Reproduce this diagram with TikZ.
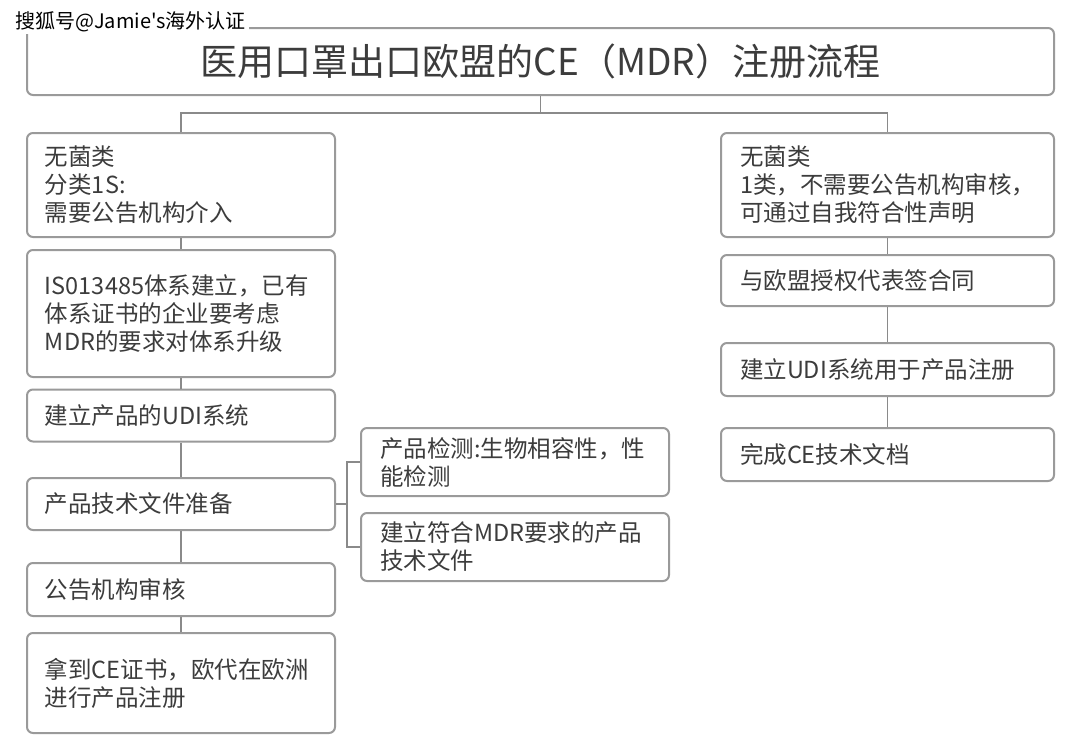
\documentclass[tikz,border=0pt]{standalone}
\usepackage{fontspec}
\setmainfont{Noto Sans CJK SC}
\newfontfamily\wmfont[Ligatures=TeXOff]{Noto Sans CJK SC}
\definecolor{boxline}{HTML}{9A9A9A}
\definecolor{connline}{HTML}{8A8A8A}
\definecolor{txt}{HTML}{3C3C3C}
\begin{document}
\begin{tikzpicture}[x=1pt,y=-1pt,
  box/.style={draw=boxline,line width=2pt,rounded corners=6pt,fill=white,
    align=left,text=txt,font=\fontsize{23.5}{28}\selectfont,
    inner ysep=0pt,anchor=center},
  lbox/.style={box,inner xsep=18pt,text width=272pt},
  rbox/.style={box,inner xsep=19pt,text width=295pt},
  mbox/.style={box,inner xsep=19pt,text width=270pt},
  conn/.style={draw=connline,line width=1.6pt}]
\useasboundingbox (0,0) rectangle (1080,753);
\fill[white] (0,0) rectangle (1080,753);
% title
\node[box,align=center,inner xsep=0pt,minimum width=1027pt,minimum height=67pt,
  font=\fontsize{37}{40}\selectfont] (title) at (540.5,61.5)
  {医用口罩出口欧盟的CE（MDR）注册流程};
% left column
\node[lbox,minimum height=104pt] (B1) at (181,185) {无菌类\\分类1S:\\需要公告机构介入};
\node[lbox,minimum height=127pt] (B2) at (181,313.5) {IS013485体系建立，已有\\体系证书的企业要考虑\\MDR的要求对体系升级};
\node[lbox,minimum height=52pt] (B3) at (181,415.5) {建立产品的UDI系统};
\node[lbox,minimum height=52pt] (B4) at (181,504) {产品技术文件准备};
\node[lbox,minimum height=53pt] (B5) at (181,589.5) {公告机构审核};
\node[lbox,minimum height=100pt] (B6) at (181,683) {拿到CE证书，欧代在欧洲\\进行产品注册};
% middle
\node[mbox,minimum height=68pt] (M1) at (515,462) {产品检测:生物相容性，性\\能检测};
\node[mbox,minimum height=68pt] (M2) at (515,547) {建立符合MDR要求的产品\\技术文件};
% right column
\node[rbox,minimum height=104pt] (R1) at (887.5,185) {无菌类\\1类，不需要公告机构审核，\\可通过自我符合性声明};
\node[rbox,minimum height=51pt] (R2) at (887.5,280.5) {与欧盟授权代表签合同};
\node[rbox,minimum height=53pt] (R3) at (887.5,369.5) {建立UDI系统用于产品注册};
\node[rbox,minimum height=53pt] (R4) at (887.5,454.5) {完成CE技术文档};
% connectors
\coordinate (j) at (540.5,113);
\coordinate (bx) at (347,504);
\draw[conn] (title.south) -- (j);
\draw[conn] (B1.north) |- (j) -| (R1.north);
\draw[conn] (B1.south) -- (B2.north);
\draw[conn] (B2.south) -- (B3.north);
\draw[conn] (B3.south) -- (B4.north);
\draw[conn] (B4.south) -- (B5.north);
\draw[conn] (B5.south) -- (B6.north);
\draw[conn] (B4.east) -- (bx);
\draw[conn] (M1.west) -| (bx) |- (M2.west);
\draw[conn] (R1.south) -- (R2.north);
\draw[conn] (R2.south) -- (R3.north);
\draw[conn] (R3.south) -- (R4.north);
% watermark
\node[fill=white,anchor=west,inner xsep=3pt,inner ysep=2pt,text=black,
  font=\wmfont\fontsize{20}{22}\selectfont] (wm) at (12,22) {搜狐号@Jamie's海外认证};
\end{tikzpicture}
\end{document}
